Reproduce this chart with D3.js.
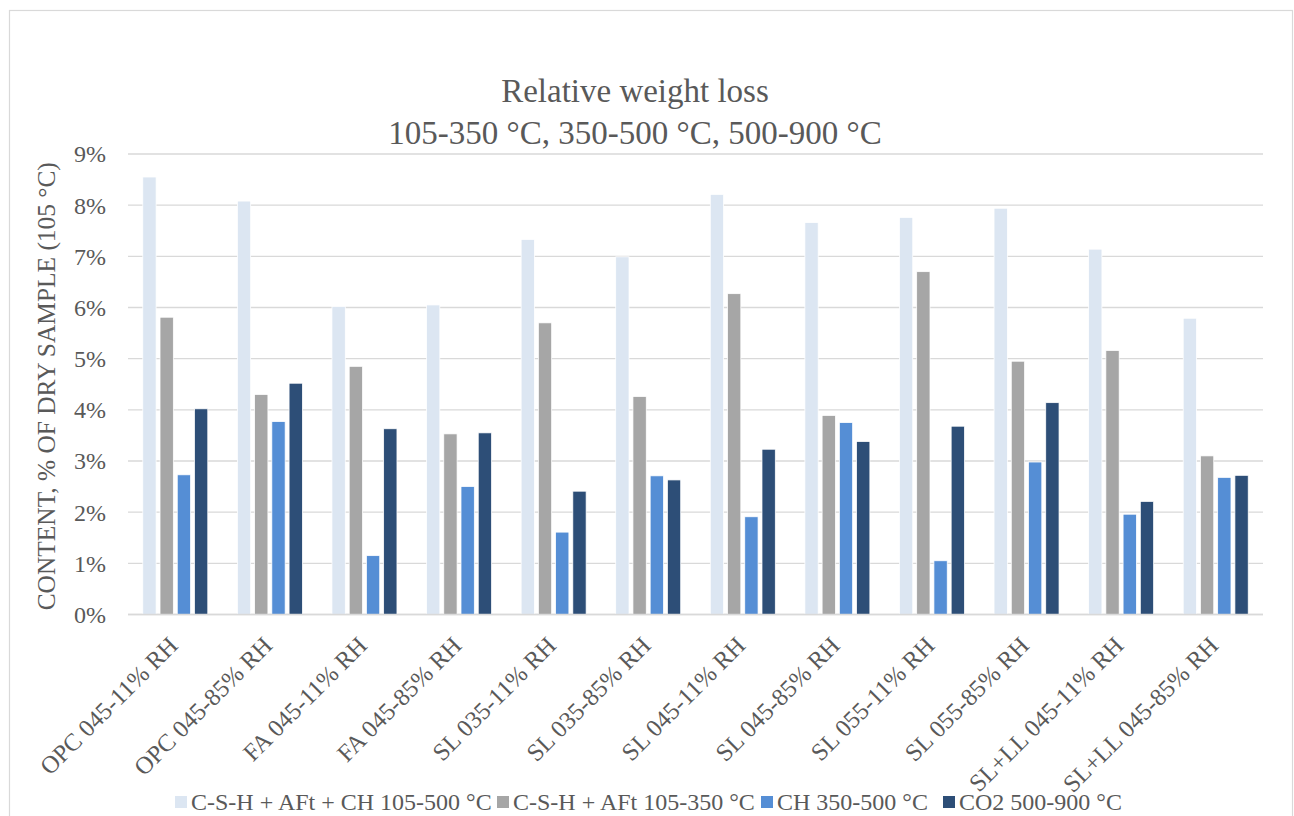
<!DOCTYPE html>
<html>
<head>
<meta charset="utf-8">
<script src="https://cdn.jsdelivr.net/npm/d3@7"></script>
<style>
  html, body { margin: 0; padding: 0; background: #fff; }
  svg { display: block; }
  text { font-family: "Liberation Serif", "DejaVu Serif", serif; fill: #595959; }
</style>
</head>
<body>
<svg id="chart" width="1294" height="816"></svg>
<script>
// Sample labels (x axis)
const categories = [
  "OPC 045-11% RH", "OPC 045-85% RH", "FA 045-11% RH", "FA 045-85% RH",
  "SL 035-11% RH", "SL 035-85% RH", "SL 045-11% RH", "SL 045-85% RH",
  "SL 055-11% RH", "SL 055-85% RH", "SL+LL 045-11% RH", "SL+LL 045-85% RH"
];

// Series names (legend)
const seriesNames = [
  "C-S-H + AFt + CH 105-500 °C",
  "C-S-H + AFt 105-350 °C",
  "CH 350-500 °C",
  "CO2 500-900 °C"
];

// Weight loss, fraction of dry sample mass (105 °C)
const cshAftCh = [0.0855, 0.0808, 0.0602, 0.0605, 0.0733, 0.0699, 0.0821, 0.0766, 0.0776, 0.0794, 0.0714, 0.0579];
const cshAft   = [0.0581, 0.0430, 0.0485, 0.0353, 0.0570, 0.0426, 0.0627, 0.0389, 0.0670, 0.0495, 0.0516, 0.0310];
const ch       = [0.0273, 0.0377, 0.0115, 0.0250, 0.0161, 0.0271, 0.0191, 0.0375, 0.0105, 0.0298, 0.0196, 0.0268];
const co2      = [0.0402, 0.0452, 0.0363, 0.0355, 0.0241, 0.0263, 0.0323, 0.0338, 0.0368, 0.0414, 0.0221, 0.0272];

// Y axis ticks
const yTicks = [0, 0.01, 0.02, 0.03, 0.04, 0.05, 0.06, 0.07, 0.08, 0.09];

const seriesValues = [cshAftCh, cshAft, ch, co2];
const colors = ["#dce6f2", "#a6a6a6", "#558ed5", "#2d4e77"];

const svg = d3.select("#chart");

// Outer chart frame
svg.append("rect")
  .attr("x", 9.5).attr("y", 10.5)
  .attr("width", 1283).attr("height", 820)
  .attr("fill", "none").attr("stroke", "#d9d9d9").attr("stroke-width", 1.2);

const plot = { left: 128, right: 1263, top: 154, bottom: 614.5 };

const x0 = d3.scaleBand()
  .domain(categories)
  .range([plot.left, plot.right])
  .paddingInner(0.3128)
  .paddingOuter(0.1564);

const x1 = d3.scaleBand()
  .domain(d3.range(seriesNames.length))
  .range([0, x0.bandwidth()])
  .paddingInner(0.228);

const y = d3.scaleLinear()
  .domain([0, 0.09])
  .range([plot.bottom, plot.top]);

// Horizontal gridlines
svg.append("g")
  .selectAll("line")
  .data(yTicks)
  .join("line")
  .attr("x1", plot.left).attr("x2", plot.right)
  .attr("y1", d => y(d)).attr("y2", d => y(d))
  .attr("stroke", "#d9d9d9").attr("stroke-width", 1.3);

// Y tick labels
svg.append("g")
  .selectAll("text")
  .data(yTicks)
  .join("text")
  .attr("x", 106)
  .attr("y", d => y(d))
  .attr("dy", "0.35em")
  .attr("text-anchor", "end")
  .attr("font-size", 24)
  .text(d => d3.format(".0%")(d));

// Bars
const groups = svg.append("g")
  .selectAll("g")
  .data(categories)
  .join("g")
  .attr("transform", d => `translate(${x0(d)},0)`);

groups.selectAll("rect")
  .data((c, i) => seriesValues.map((vals, s) => ({ s, v: vals[i] })))
  .join("rect")
  .attr("x", d => x1(d.s))
  .attr("width", x1.bandwidth())
  .attr("y", d => y(d.v))
  .attr("height", d => y(0) - y(d.v))
  .attr("fill", d => colors[d.s])
  .attr("stroke", "#ffffff")
  .attr("stroke-width", 0.75);

// Category axis line
svg.append("line")
  .attr("x1", plot.left).attr("x2", plot.right)
  .attr("y1", plot.bottom).attr("y2", plot.bottom)
  .attr("stroke", "#d9d9d9").attr("stroke-width", 1.3);

// Rotated category labels
svg.append("g")
  .selectAll("text")
  .data(categories)
  .join("text")
  .attr("text-anchor", "end")
  .attr("font-size", 24.5)
  .attr("transform", d => `translate(${x0(d) + x0.bandwidth() / 2 + 4},${647}) rotate(-45)`)
  .text(d => d);

// Y axis title
svg.append("text")
  .attr("transform", `translate(55,${(plot.top + plot.bottom) / 2 + 2}) rotate(-90)`)
  .attr("text-anchor", "middle")
  .attr("font-size", 25.4)
  .text("CONTENT, % OF DRY SAMPLE (105 °C)");

// Title
const title = svg.append("text")
  .attr("text-anchor", "middle")
  .attr("font-size", 33);
title.append("tspan").attr("x", 635).attr("y", 102).text("Relative weight loss");
title.append("tspan").attr("x", 635).attr("y", 144).text("105-350 °C, 350-500 °C, 500-900 °C");

// Legend
const legendX = [175, 497, 761, 943];
const legend = svg.append("g")
  .selectAll("g")
  .data(seriesNames)
  .join("g")
  .attr("transform", (d, i) => `translate(${legendX[i]},802)`);
legend.append("rect")
  .attr("x", 0).attr("y", -6)
  .attr("width", 12).attr("height", 12)
  .attr("fill", (d, i) => colors[i]);
legend.append("text")
  .attr("x", 16)
  .attr("dy", "0.35em")
  .attr("font-size", 24)
  .text(d => d);
</script>
</body>
</html>
